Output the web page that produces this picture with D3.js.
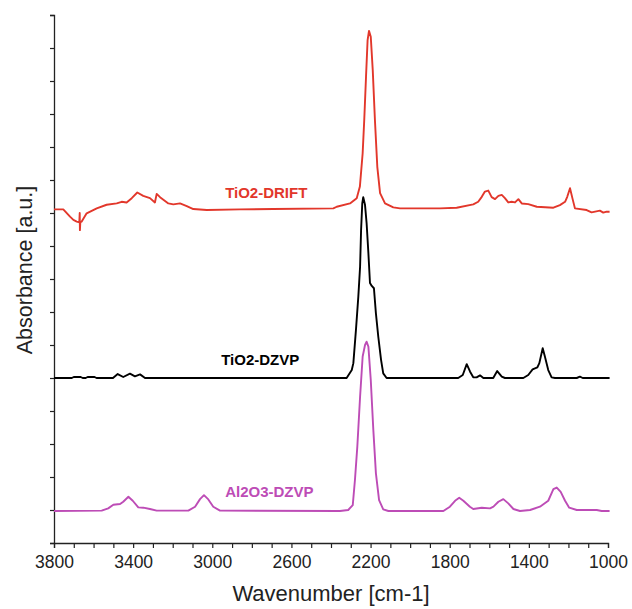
<!DOCTYPE html>
<html>
<head>
<meta charset="utf-8">
<script src="https://cdn.jsdelivr.net/npm/d3@7"></script>
<style>
  body { margin: 0; background: #fff; }
  svg text { font-family: "Liberation Sans", Arial, Helvetica, sans-serif; }
</style>
</head>
<body>
<div id="chart-area"></div>
<script>
// [wavenumber cm-1, absorbance a.u.]
const drift = [
  [3800, 10.11], [3753, 10.11], [3719, 9.89], [3702, 9.79], [3685, 9.74], [3672, 9.72],
  [3670, 10.0], [3669, 9.48], [3667, 9.72], [3660, 9.74], [3635, 9.99], [3584, 10.14],
  [3534, 10.25], [3483, 10.29], [3458, 10.34], [3433, 10.32], [3407, 10.45], [3379, 10.62],
  [3349, 10.52], [3315, 10.45], [3290, 10.32], [3281, 10.58], [3264, 10.48], [3222, 10.29],
  [3197, 10.26], [3163, 10.29], [3129, 10.21], [3096, 10.12], [3028, 10.09], [2860, 10.11],
  [2692, 10.12], [2388, 10.14], [2371, 10.19], [2304, 10.29], [2270, 10.45], [2254, 10.8],
  [2240, 11.81], [2232, 12.82], [2223, 14.13], [2215, 15.24], [2208, 15.52], [2199, 15.34],
  [2189, 14.33], [2178, 12.82], [2166, 11.4], [2152, 10.6], [2127, 10.29], [2085, 10.17],
  [2051, 10.14], [1849, 10.14], [1765, 10.16], [1681, 10.26], [1656, 10.34], [1638, 10.49],
  [1622, 10.65], [1605, 10.68], [1588, 10.48], [1571, 10.42], [1554, 10.52], [1537, 10.55],
  [1521, 10.45], [1504, 10.32], [1487, 10.34], [1470, 10.32], [1453, 10.42], [1436, 10.29],
  [1403, 10.27], [1360, 10.19], [1276, 10.16], [1243, 10.24], [1217, 10.34], [1206, 10.49],
  [1192, 10.75], [1180, 10.45], [1167, 10.14], [1108, 10.09], [1083, 10.02], [1041, 10.07],
  [1024, 10.01], [1007, 10.04], [992, 10.04]
];

const tio2Dzvp = [
  [3800, 5.0], [3710, 5.0], [3700, 5.03], [3665, 5.03], [3655, 5.0], [3640, 5.0],
  [3630, 5.03], [3595, 5.03], [3585, 5.0], [3502, 5.0], [3478, 5.12], [3450, 5.03],
  [3416, 5.13], [3391, 5.05], [3365, 5.11], [3340, 5.0], [2321, 5.0], [2295, 5.24],
  [2287, 5.45], [2274, 6.45], [2262, 7.46], [2253, 8.37], [2248, 9.48], [2242, 10.29],
  [2237, 10.48], [2228, 10.24], [2220, 9.69], [2211, 8.78], [2203, 7.88], [2194, 7.79],
  [2183, 7.72], [2173, 6.96], [2161, 6.25], [2147, 5.55], [2136, 5.14], [2119, 5.0],
  [1757, 5.0], [1734, 5.09], [1714, 5.42], [1697, 5.19], [1681, 5.02], [1664, 5.02],
  [1647, 5.08], [1630, 5.0], [1580, 5.0], [1560, 5.21], [1537, 5.04], [1521, 5.0],
  [1428, 5.0], [1403, 5.09], [1381, 5.26], [1357, 5.32], [1347, 5.45], [1330, 5.9],
  [1319, 5.65], [1302, 5.24], [1285, 5.02], [1268, 5.0], [1158, 5.0], [1142, 5.04],
  [1128, 5.0], [992, 5.0]
];

const al2o3Dzvp = [
  [3800, 0.97], [3559, 0.98], [3526, 1.05], [3500, 1.16], [3466, 1.18], [3450, 1.25],
  [3424, 1.40], [3402, 1.28], [3374, 1.08], [3349, 1.07], [3315, 1.03], [3281, 0.98],
  [3121, 0.98], [3087, 1.10], [3062, 1.33], [3042, 1.45], [3020, 1.32], [2995, 1.10],
  [2961, 0.98], [2355, 0.97], [2313, 1.0], [2290, 1.15], [2279, 1.91], [2267, 2.92],
  [2253, 4.43], [2240, 5.65], [2228, 6.0], [2220, 6.10], [2211, 5.95], [2199, 4.94],
  [2186, 3.42], [2173, 2.11], [2157, 1.30], [2136, 1.02], [2110, 0.97], [1832, 0.97],
  [1799, 1.10], [1773, 1.28], [1752, 1.37], [1731, 1.28], [1698, 1.10], [1681, 1.03],
  [1638, 1.07], [1596, 1.05], [1579, 1.10], [1554, 1.25], [1529, 1.33], [1504, 1.20],
  [1478, 1.03], [1445, 0.97], [1394, 1.0], [1344, 1.10], [1302, 1.28], [1276, 1.63],
  [1259, 1.68], [1239, 1.55], [1217, 1.28], [1196, 1.07], [1158, 1.0], [1057, 1.0],
  [1032, 0.97], [992, 0.97]
];

const seriesNames = ["TiO2-DRIFT", "TiO2-DZVP", "Al2O3-DZVP"];
const seriesColors = ["#e2372b", "#000000", "#bd4cb6"];
const labelPos = [[2935, 10.45], [2955, 5.4], [2935, 1.39]];
const xTickLabels = [3800, 3400, 3000, 2600, 2200, 1800, 1400, 1000];

const chartSize = { width: 632, height: 609 };
const margin = { left: 54, right: 24, top: 15, bottom: 66 };
const width = chartSize.width - margin.left - margin.right;
const height = chartSize.height - margin.top - margin.bottom;

const svg = d3.select("#chart-area").append("svg")
  .attr("width", chartSize.width)
  .attr("height", chartSize.height);
const g = svg.append("g").attr("transform", `translate(${margin.left}, ${margin.top})`);

const x = d3.scaleLinear().domain([3800, 1000]).range([0, width]);
const y = d3.scaleLinear().domain([0, 16]).range([height, 0]);

const xAxis = d3.axisBottom(x)
  .tickValues(d3.range(3800, 999, -100))
  .tickSize(5)
  .tickFormat(d => xTickLabels.includes(d) ? d : "");
g.append("g")
  .attr("class", "x-axis")
  .attr("transform", `translate(0, ${height})`)
  .call(xAxis);

const yAxis = d3.axisLeft(y).tickValues(d3.range(0, 17)).tickSize(4).tickFormat("");
g.append("g").attr("class", "y-axis").call(yAxis);

g.selectAll(".x-axis path, .y-axis path").attr("stroke", "#222").attr("stroke-width", 1.3);
g.selectAll(".x-axis line, .y-axis line").attr("stroke", "#222").attr("stroke-width", 1.2);
g.selectAll(".x-axis text")
  .attr("font-size", 17.5)
  .attr("fill", "#222")
  .attr("dy", "0.71em")
  .attr("y", 13);

g.append("text")
  .attr("x", width / 2)
  .attr("y", height + 58)
  .attr("text-anchor", "middle")
  .attr("font-size", 22)
  .attr("fill", "#222")
  .text("Wavenumber [cm-1]");

g.append("text")
  .attr("transform", "rotate(-90)")
  .attr("x", -height / 2 + 9)
  .attr("y", -22)
  .attr("text-anchor", "middle")
  .attr("font-size", 21.5)
  .attr("fill", "#222")
  .text("Absorbance [a.u.]");

const line = d3.line().x(d => x(d[0])).y(d => y(d[1]));
[drift, tio2Dzvp, al2o3Dzvp].forEach((data, i) => {
  g.append("path")
    .datum(data)
    .attr("fill", "none")
    .attr("stroke", seriesColors[i])
    .attr("stroke-width", 1.9)
    .attr("stroke-linejoin", "round")
    .attr("d", line);
  g.append("text")
    .attr("x", x(labelPos[i][0]))
    .attr("y", y(labelPos[i][1]))
    .attr("font-size", 15)
    .attr("font-weight", "bold")
    .attr("fill", seriesColors[i])
    .text(seriesNames[i]);
});
</script>
</body>
</html>
